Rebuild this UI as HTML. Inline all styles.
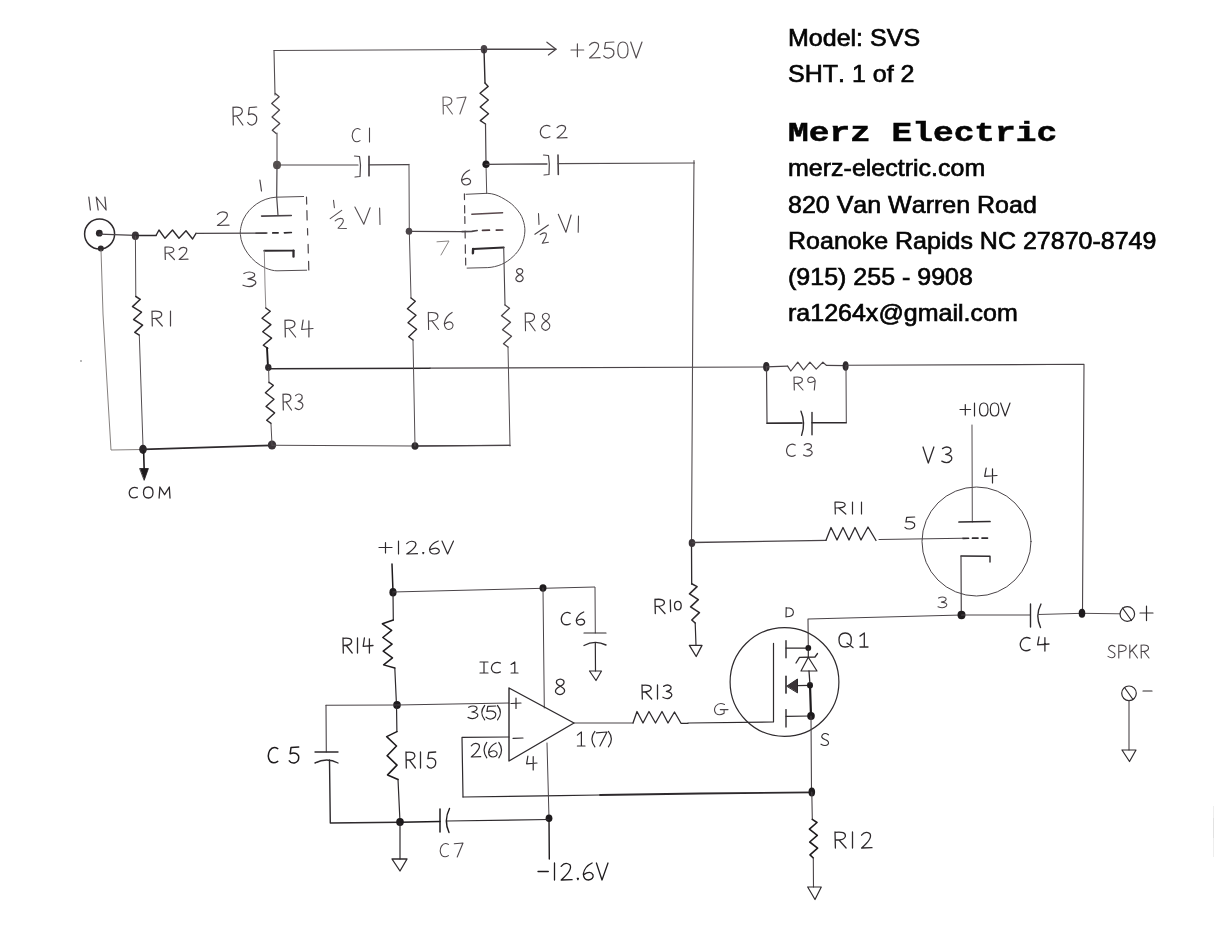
<!DOCTYPE html>
<html><head><meta charset="utf-8"><title>SVS schematic</title>
<style>
html,body{margin:0;padding:0;background:#fff;}
body{width:1214px;height:942px;position:relative;overflow:hidden;font-family:"Liberation Sans",sans-serif;}
svg{position:absolute;left:0;top:0;}
.t{position:absolute;left:787.7px;height:40px;line-height:40px;font-size:23.6px;color:#050505;white-space:nowrap;font-kerning:none;transform-origin:0 75%;transform:scaleX(1.06);
   -webkit-text-stroke:0.65px #050505;will-change:transform;}
.m{font-family:"Liberation Mono",monospace;font-weight:bold;font-size:27.9px;transform:scaleX(1.237);-webkit-text-stroke:0.5px #050505;}
</style></head>
<body>
<svg width="1214" height="942" viewBox="0 0 1214 942" fill="none" stroke-linecap="round">
<path d="M274,50.5 L484,49.5" stroke="#544e51" stroke-width="1.1"/>
<path d="M484,49.3 L556,49.3" stroke="#4a4448" stroke-width="1.4"/>
<path d="M546.9,42.2 L556,49.2 L548.4,55" stroke="#4a4448" stroke-width="1.2" stroke-linejoin="round"/>
<ellipse cx="484" cy="49.3" rx="3.3" ry="4.2" fill="#4a4448" stroke="none"/>
<path d="M 571,50 L 583.7,50 M 577.4,43.9 L 577.4,56.7 M 589.5,45.2 Q 593.2,40.4 597.9,43.6 Q 601.1,48.1 589.5,58 L 600.1,57.7 M 613.9,42 L 605.5,42.5 L 604.6,48.7 Q 610.9,46.8 613.7,50.8 Q 614.9,56.4 609.1,58 Q 605.5,58.3 603.7,55.8 M 622.9,42 Q 617.8,42 617.8,50 Q 617.8,58 622.9,58 Q 628,58 628,50 Q 628,42 622.9,42 M 630.7,42 L 636.2,58 L 642,42" stroke="#544e51" stroke-width="1.2" stroke-linejoin="round" stroke-linecap="round"/>
<path d="M274,50.5 L275,95" stroke="#544e51" stroke-width="1.1"/>
<path d="M275.3,93.5 L279.2,96.7 L271.7,103.6 L279.5,110.1 L272,116.9 L279.8,123.4 L272.3,130.3 L276.2,133.5" stroke="#4a4448" stroke-width="1.3" stroke-linejoin="round"/>
<path d="M277,133 L277,165" stroke="#544e51" stroke-width="1.1"/>
<path d="M 233.3,125 L 233,107 M 233,107.4 Q 242.9,105.9 242.3,111.9 Q 241.3,116.4 233.3,116 M 236.5,116 L 242.9,125 M 256.7,107 L 249.3,107.5 L 248.5,114.6 Q 254.1,112.4 256.5,116.9 Q 257.6,123.2 252.5,125 Q 249.3,125.4 247.7,122.5" stroke="#484246" stroke-width="1.2" stroke-linejoin="round" stroke-linecap="round"/>
<ellipse cx="277" cy="165" rx="4" ry="4.2" fill="#55504f" stroke="none"/>
<path d="M277,165 L276.7,197 L278,215.5" stroke="#4a4448" stroke-width="1.2"/>
<path d="M281,165 L358,165" stroke="#4a4448" stroke-width="1.2"/>
<path d="M354.5,156 L359.5,156.5 L360.5,165 L360,176.5 L355,177" stroke="#4a4448" stroke-width="1.2" stroke-linejoin="round"/>
<path d="M369,156.4 L369,175.7" stroke="#4a4448" stroke-width="1.7"/>
<path d="M369,164.9 L408.8,164.6" stroke="#4a4448" stroke-width="1.4"/>
<path d="M 360,129.4 Q 356.2,126.9 353.4,131.1 Q 350.9,136.4 353.7,140.3 Q 356.4,143.1 360,140.6 M 369.5,128 L 369.5,142" stroke="#484246" stroke-width="1.1" stroke-linejoin="round" stroke-linecap="round"/>
<path d="M 259.9,180 L 261.5,191" stroke="#4a4448" stroke-width="1.2" stroke-linejoin="round" stroke-linecap="round"/>
<path d="M303.6,196.5 L276,197.2 C262,198 249.4,207 243.5,219 C240.5,226 240,232 240.4,234.5 C241,247 251.5,262 265.5,268 C270,270 274,270.8 277,270.8 L306.7,270.2" stroke="#544e51" stroke-width="1"/>
<path d="M306.5,197.2 L306.7,204.1" stroke="#4a4448" stroke-width="1.2"/>
<path d="M306.9,210.5 L307.1,220" stroke="#4a4448" stroke-width="1.2"/>
<path d="M307.5,228.5 L307.7,234.9" stroke="#4a4448" stroke-width="1.2"/>
<path d="M308.1,244.4 L308.3,253" stroke="#4a4448" stroke-width="1.2"/>
<path d="M308.6,261.4 L308.8,270" stroke="#4a4448" stroke-width="1.2"/>
<path d="M261.6,216.1 L291.3,215.5" stroke="#4a4448" stroke-width="1.6"/>
<path d="M256,233.2 L265.9,233.2" stroke="#4a4448" stroke-width="1.6"/>
<path d="M272.8,232.9 L278.1,232.8" stroke="#2e2a2d" stroke-width="1.7"/>
<path d="M284.4,232.8 L291.3,232.5" stroke="#2e2a2d" stroke-width="1.7"/>
<path d="M293.5,256.7 L293.5,250.6" stroke="#2e2a2d" stroke-width="2.3"/>
<path d="M293.5,250.6 L264.3,250.8" stroke="#2e2a2d" stroke-width="1.9"/>
<path d="M264.3,250.8 L265,285 L265.8,308" stroke="#807a7c" stroke-width="0.9"/>
<path d="M 217.4,214.3 Q 221.4,210.1 226.6,212.9 Q 230.2,216.8 217.4,225.5 L 229,225.2" stroke="#4a4448" stroke-width="1.2" stroke-linejoin="round" stroke-linecap="round"/>
<path d="M 243.9,273.5 Q 249.7,270.5 254.2,273.5 Q 256.4,277.4 247.9,278.9 Q 257.8,280.1 255.3,284 Q 251.1,288.5 243,285.2" stroke="#4a4448" stroke-width="1.2" stroke-linejoin="round" stroke-linecap="round"/>
<path d="M333.5,200.2 L334.4,207.7 M330.2,218.6 L341.7,210.4 M335.2,220.9 Q339,217.3 342.6,218.8 Q345.5,221.2 338.1,228.2 L346.4,228.5 M354.9,207.1 L363.8,224.2 L370.1,207.7 M379.6,208.1 L380,224.5" stroke="#544e51" stroke-width="1.1" stroke-linejoin="round"/>
<circle cx="99.6" cy="234" r="15" stroke="#2e2a2d" stroke-width="1.5"/>
<ellipse cx="99.3" cy="233.2" rx="3.4" ry="3.4" fill="#2a2629" stroke="none"/>
<ellipse cx="100.8" cy="248.6" rx="3" ry="3" fill="#2e2a2d" stroke="none"/>
<path d="M 88.8,197 L 90.4,210 M 98.2,210 L 96.2,197 L 106.1,210 L 104.9,197" stroke="#4a4448" stroke-width="1.2" stroke-linejoin="round" stroke-linecap="round"/>
<path d="M99.3,234.2 L135.4,235.3" stroke="#4a4448" stroke-width="1.3"/>
<ellipse cx="135.4" cy="235.7" rx="3.6" ry="4.3" fill="#3a3438" stroke="none"/>
<path d="M135.4,235.5 L156,235.5" stroke="#2e2a2d" stroke-width="1.5"/>
<path d="M156,235.5 L159,230 L165,238.3 L172.5,230 L179,238.3 L186,230.8 L192.6,239 L196,233.3" stroke="#2e2a2d" stroke-width="1.4" stroke-linejoin="round"/>
<path d="M196,233.3 L267,233" stroke="#4a4448" stroke-width="1.3"/>
<path d="M 165.3,259.5 L 165,247 M 165,247.2 Q 174.4,246.2 173.8,250.4 Q 172.9,253.5 165.3,253.2 M 168.3,253.2 L 174.4,259.5 M 179.2,249.5 Q 182.2,245.8 186.2,248.2 Q 188.9,251.8 179.2,259.5 L 188,259.2" stroke="#4a4448" stroke-width="1.2" stroke-linejoin="round" stroke-linecap="round"/>
<path d="M101,250 L103,314 L108,400 L111,450 L143,449.5" stroke="#77726f" stroke-width="0.9" stroke-linejoin="round"/>
<path d="M135.4,236 L135.8,296.5" stroke="#544e51" stroke-width="1"/>
<path d="M135.8,296.5 L140.3,299.3 L132.5,306.6 L141.5,312.2 L133.6,319.5 L142.6,325.1 L134.8,332.4 L139.3,335.2" stroke="#2e2a2d" stroke-width="1.5" stroke-linejoin="round"/>
<path d="M139.3,335.2 L143,446" stroke="#544e51" stroke-width="1"/>
<path d="M 152.3,326 L 152,311 M 152,311.3 Q 162.3,310.1 161.7,315.1 Q 160.7,318.8 152.3,318.5 M 155.7,318.5 L 162.3,326 M 170.5,311 L 170.5,326" stroke="#484246" stroke-width="1.2" stroke-linejoin="round" stroke-linecap="round"/>
<ellipse cx="143" cy="449.3" rx="3.8" ry="4.6" fill="#2a2629" stroke="none"/>
<path d="M143.6,450 L144.3,474" stroke="#1e1b1d" stroke-width="1.6"/>
<path d="M140,468.5 L148.4,468.5 L144.3,480 Z" fill="#1e1b1d" stroke="#1e1b1d" stroke-width="0.8"/>
<path d="M 137.4,488.1 Q 133.3,486.1 130.4,489.4 Q 127.8,493.6 130.7,496.7 Q 133.6,498.9 137.4,496.9 M 148.3,487 Q 143.5,487 143.5,492.5 Q 143.5,498 148.3,498 Q 153,498 153,492.5 Q 153,487 148.3,487 M 159.1,498 L 159.9,487 L 164.6,494.7 L 169.3,487 L 170,498" stroke="#2e2a2d" stroke-width="1.3" stroke-linejoin="round" stroke-linecap="round"/>
<path d="M143,449.3 L272,445.3" stroke="#2e2a2d" stroke-width="1.7"/>
<ellipse cx="272" cy="445" rx="4.2" ry="4.5" fill="#3a3438" stroke="none"/>
<path d="M272,445.3 L415,446 L510,445.3" stroke="#544e51" stroke-width="1.1"/>
<path d="M415,446 L510,445.3" stroke="#4a4448" stroke-width="1.3"/>
<ellipse cx="415" cy="446" rx="3.5" ry="3.8" fill="#2e2a2d" stroke="none"/>
<path d="M265.8,308 L270.3,311.2 L262,318.3 L270.9,324.6 L262.7,331.8 L271.6,338.1 L263.3,345.2 L267.8,348.4" stroke="#2e2a2d" stroke-width="1.4" stroke-linejoin="round"/>
<path d="M267,348 L268,367" stroke="#1e1b1d" stroke-width="1.9"/>
<ellipse cx="268.3" cy="367.5" rx="3.2" ry="3.4" fill="#2e2a2d" stroke="none"/>
<path d="M268.6,368 L269,383" stroke="#544e51" stroke-width="1"/>
<path d="M269,382.2 L273.3,385.4 L265.4,392.7 L274,399.2 L266,406.4 L274.6,412.9 L266.7,420.2 L271,423.4" stroke="#2e2a2d" stroke-width="1.4" stroke-linejoin="round"/>
<path d="M271,424 L272,445" stroke="#544e51" stroke-width="1"/>
<path d="M 285.3,337 L 285,320 M 285,320.3 Q 295.6,319 294.9,324.6 Q 293.9,328.8 285.3,328.5 M 288.8,328.5 L 295.6,337 M 303.1,320 L 301.7,329.5 L 313,328.5 M 308.9,320.9 L 308.9,337" stroke="#484246" stroke-width="1.2" stroke-linejoin="round" stroke-linecap="round"/>
<path d="M 283.3,410 L 283,394 M 283,394.3 Q 291.5,393 290.9,398.3 Q 290.1,402.3 283.3,402 M 286,402 L 291.5,410 M 295.6,395.6 Q 299.2,392.4 301.9,395.6 Q 303.3,399.8 298.1,401.4 Q 304.1,402.6 302.6,406.8 Q 300,411.6 295.1,408.1" stroke="#4a4448" stroke-width="1.2" stroke-linejoin="round" stroke-linecap="round"/>
<path d="M268.5,368.7 L430,368.2" stroke="#2e2a2d" stroke-width="1.6"/>
<path d="M430,368.2 L766,367" stroke="#4a4448" stroke-width="1.2"/>
<ellipse cx="766.3" cy="366.8" rx="3.2" ry="4.8" fill="#2e2a2d" stroke="none"/>
<path d="M409,164.3 L409.3,231 L411,298" stroke="#544e51" stroke-width="1"/>
<ellipse cx="409" cy="231.3" rx="3.3" ry="3.5" fill="#4a4448" stroke="none"/>
<path d="M411,298 L415.3,301.3 L407.4,308.7 L416,315.3 L408,322.7 L416.6,329.3 L408.7,336.7 L413,340" stroke="#2e2a2d" stroke-width="1.4" stroke-linejoin="round"/>
<path d="M413,340 L415,446" stroke="#544e51" stroke-width="1"/>
<path d="M 428.6,329.5 L 428.3,312.4 M 428.3,312.7 Q 438.5,311.4 437.9,317 Q 436.9,321.3 428.6,320.9 M 431.9,320.9 L 438.5,329.5 M 452.1,312.4 Q 445.5,315.8 444.3,323.5 Q 444.6,329.5 448.8,329.5 Q 453.7,328.6 452.9,324.4 Q 450.8,319.6 444.6,324" stroke="#484246" stroke-width="1.1" stroke-linejoin="round" stroke-linecap="round"/>
<path d="M409,231.3 L462,231.6" stroke="#4a4448" stroke-width="1.3"/>
<path d="M466,194.3 L487.2,193.3 C493,193.5 497.5,195.3 501.6,197.5 C507,200.5 511,203 514.3,206.5 C519,211.5 521.6,215.5 522.8,219.3 C524.3,223.5 525,227.5 524.9,231 C524.7,236 523.5,241 521.7,244.8 C519.5,249.5 516.5,253.5 513.2,256.4 C509.5,260 505.5,262.6 501.6,264.4 C497,266.3 492,267.4 487.8,267.6 L467.1,268.1" stroke="#544e51" stroke-width="1"/>
<path d="M464.4,193.8 L464.5,199.6" stroke="#4a4448" stroke-width="1.2"/>
<path d="M464.6,205.5 L464.7,212.9" stroke="#4a4448" stroke-width="1.2"/>
<path d="M464.8,216.6 L464.9,223.5" stroke="#4a4448" stroke-width="1.2"/>
<path d="M465.1,231 L465.2,237.9" stroke="#4a4448" stroke-width="1.2"/>
<path d="M465.3,244.8 L465.4,253.2" stroke="#4a4448" stroke-width="1.2"/>
<path d="M465.6,258 L465.7,264.9" stroke="#4a4448" stroke-width="1.2"/>
<path d="M471.8,214.2 L502.6,212.7" stroke="#5a4a4e" stroke-width="1.4"/>
<path d="M462,231.6 L471.8,231.4 L477.2,230.5" stroke="#4a4448" stroke-width="1.6"/>
<path d="M482.5,230.3 L489.4,230.2" stroke="#4a3a3e" stroke-width="1.7"/>
<path d="M496.3,230.1 L502.6,230" stroke="#4a3a3e" stroke-width="1.7"/>
<path d="M472.9,253.2 L473.1,249" stroke="#2e2a2d" stroke-width="2.4"/>
<path d="M473.1,249 L503.7,247.4" stroke="#2e2a2d" stroke-width="2"/>
<path d="M503.7,247.4 L505,305" stroke="#4a4448" stroke-width="1.1"/>
<path d="M 469.6,170 Q 462.7,173 461.5,179.8 Q 461.9,185 466.2,185 Q 471.3,184.2 470.5,180.5 Q 468.2,176.3 461.9,180.2" stroke="#484246" stroke-width="1.2" stroke-linejoin="round" stroke-linecap="round"/>
<path d="M 437,241.8 L 449,241 L 441,255" stroke="#8a8684" stroke-width="1" stroke-linejoin="round" stroke-linecap="round"/>
<path d="M 519.8,274.6 Q 515.5,272.6 516.9,269.9 Q 519.8,267.4 522.4,269.9 Q 523.8,272.6 519.8,274.6 Q 514.6,277.3 516.2,280 Q 519.5,283.4 522.6,280 Q 524.6,277.3 519.8,274.6" stroke="#4a4448" stroke-width="1.2" stroke-linejoin="round" stroke-linecap="round"/>
<path d="M538.5,213.5 L539,224.4 M534.9,234.3 L548.4,225 M540.2,234.6 Q543.5,232 546.1,233.3 Q547.5,235.5 542.3,243.2 L548.4,242.2 M558.3,214.2 L565.9,232.3 L571.1,215 M578.5,216.1 L578.2,232.3" stroke="#4a4448" stroke-width="1.1" stroke-linejoin="round"/>
<path d="M484,49.3 L485,83" stroke="#2e2a2d" stroke-width="1.4"/>
<path d="M485,83 L488.2,86.4 L480,93.3 L488.3,100 L480.2,107 L488.5,113.7 L480.3,120.6 L485.5,124" stroke="#2e2a2d" stroke-width="1.4" stroke-linejoin="round"/>
<path d="M485.5,124 L486,164" stroke="#4a4448" stroke-width="1.2"/>
<path d="M486,164 L486.7,193.5" stroke="#544e51" stroke-width="1"/>
<path d="M 443.3,114 L 443,97 M 443,97.3 Q 452.4,96 451.8,101.6 Q 450.9,105.8 443.3,105.5 M 446.3,105.5 L 452.4,114 M 456.9,98 L 466,97 L 459.9,114" stroke="#625c5e" stroke-width="1.1" stroke-linejoin="round" stroke-linecap="round"/>
<ellipse cx="486" cy="164.3" rx="3.6" ry="3.8" fill="#1e1b1d" stroke="none"/>
<path d="M486,164.3 L547,164" stroke="#4a4448" stroke-width="1.3"/>
<path d="M543.5,155 L548.5,155.5 L549.3,164 L549,174.5 L544,175" stroke="#4a4448" stroke-width="1.2" stroke-linejoin="round"/>
<path d="M558,155 L558.3,174.5" stroke="#4a4448" stroke-width="1.6"/>
<path d="M558,163.6 L694.5,163" stroke="#544e51" stroke-width="1.1"/>
<path d="M 549.9,126.3 Q 545.1,124 541.7,127.9 Q 538.6,132.8 542.1,136.4 Q 545.5,139 549.9,136.7 M 557.1,127.6 Q 560.5,123.7 564.9,126.3 Q 568,129.9 557.1,138 L 567,137.7" stroke="#484246" stroke-width="1.2" stroke-linejoin="round" stroke-linecap="round"/>
<path d="M694,160.5 L693,280 L691.5,543" stroke="#544e51" stroke-width="1.1"/>
<path d="M691.5,543 L691.7,584" stroke="#2e2a2d" stroke-width="1.3"/>
<ellipse cx="692" cy="543" rx="3.3" ry="4" fill="#3a3438" stroke="none"/>
<path d="M505,305 L509.5,308.2 L501.5,315.8 L510.5,322.2 L502.5,329.8 L511.5,336.2 L503.5,343.8 L508,347" stroke="#4a4448" stroke-width="1.3" stroke-linejoin="round"/>
<path d="M508,347 L510,446" stroke="#544e51" stroke-width="1"/>
<path d="M 525.5,330.8 L 525.2,313 M 525.2,313.4 Q 535.1,311.9 534.5,317.8 Q 533.5,322.3 525.5,321.9 M 528.7,321.9 L 535.1,330.8 M 546,321 Q 541.2,318.3 542.8,314.8 Q 546,311.6 548.9,314.8 Q 550.5,318.3 546,321 Q 540.3,324.6 542,328.1 Q 545.7,332.6 549.2,328.1 Q 551.5,324.6 546,321" stroke="#484246" stroke-width="1.1" stroke-linejoin="round" stroke-linecap="round"/>
<path d="M766,366.8 L787.6,366.2" stroke="#4a4448" stroke-width="1.2"/>
<path d="M787.6,366.2 L790.8,371 L797.8,362.2 L803.5,369.8 L809.9,362.2 L816.2,369.2 L822.9,362.2 L826.4,365.4" stroke="#4a4448" stroke-width="1.2" stroke-linejoin="round"/>
<path d="M826.4,365.4 L846,365.6" stroke="#4a4448" stroke-width="1.1"/>
<ellipse cx="845.6" cy="366" rx="3" ry="4.8" fill="#2e2a2d" stroke="none"/>
<path d="M 794.3,390 L 794,377 M 794,377.3 Q 803,376.2 802.4,380.5 Q 801.6,383.8 794.3,383.5 M 797.2,383.5 L 803,390 M 815.2,380.6 Q 813.9,377 811,377 Q 807.4,377.6 807.8,380.9 Q 809.5,384.3 815.2,380.6 L 814.3,390" stroke="#4a4448" stroke-width="1.1" stroke-linejoin="round" stroke-linecap="round"/>
<path d="M766.5,367 L767,423.3 L802,423" stroke="#4a4448" stroke-width="1.2" stroke-linejoin="round"/>
<path d="M767,423.3 L802,423" stroke="#2e2a2d" stroke-width="1.5"/>
<path d="M801,411.2 Q805.8,423 801.6,435.4" stroke="#2e2a2d" stroke-width="1.4"/>
<path d="M812,412.5 L812,434.8" stroke="#2e2a2d" stroke-width="1.4"/>
<path d="M812,422.7 L846.3,422.7" stroke="#2e2a2d" stroke-width="1.5"/>
<path d="M846.3,422.7 L846,366" stroke="#4a4448" stroke-width="1"/>
<path d="M 795.2,445 Q 790.9,442.7 787.8,446.5 Q 785.1,451.4 788.1,455 Q 791.2,457.5 795.2,455.2 M 804.2,445 Q 808.1,442.4 811.2,445 Q 812.7,448.3 806.9,449.6 Q 813.6,450.6 811.9,453.9 Q 809,457.8 803.5,455" stroke="#4a4448" stroke-width="1.2" stroke-linejoin="round" stroke-linecap="round"/>
<path d="M846,365.3 L1084,364.3 L1082.5,613" stroke="#4a4448" stroke-width="1.1" stroke-linejoin="round"/>
<circle cx="976.5" cy="541.5" r="54.5" stroke="#4a4448" stroke-width="1.0"/>
<path d="M 960,409.5 L 970.6,409.5 M 965.3,404.6 L 965.3,415 M 974.5,403 L 974.5,416 M 983.8,403 Q 979.5,403 979.5,409.5 Q 979.5,416 983.8,416 Q 988,416 988,409.5 Q 988,403 983.8,403 M 994.5,403 Q 990.3,403 990.3,409.5 Q 990.3,416 994.5,416 Q 998.8,416 998.8,409.5 Q 998.8,403 994.5,403 M 1000.6,403 L 1005.2,416 L 1010,403" stroke="#2e2a2d" stroke-width="1.2" stroke-linejoin="round" stroke-linecap="round"/>
<path d="M972,425 L972.3,522" stroke="#544e51" stroke-width="1"/>
<path d="M959,522 L990,521.5" stroke="#2e2a2d" stroke-width="1.7"/>
<path d="M963,538.3 L990,538" stroke="#2e2a2d" stroke-width="1.7" stroke-dasharray="5.5 4"/>
<path d="M990,562 L990,556.3 L961,556" stroke="#2e2a2d" stroke-width="1.4" stroke-linejoin="round"/>
<path d="M961,556 L961.3,615" stroke="#4a4448" stroke-width="1.2"/>
<path d="M 923,447 L 928.3,463 L 933.9,447 M 942.5,448.6 Q 947.1,445.4 950.6,448.6 Q 952.4,452.8 945.7,454.4 Q 953.4,455.6 951.5,459.8 Q 948.1,464.6 941.8,461.1" stroke="#2e2a2d" stroke-width="1.3" stroke-linejoin="round" stroke-linecap="round"/>
<path d="M 986.2,468 L 984.7,476.4 L 997,475.5 M 992.5,468.8 L 992.5,483" stroke="#2e2a2d" stroke-width="1.2" stroke-linejoin="round" stroke-linecap="round"/>
<path d="M 914.7,517 L 906.7,517.4 L 905.9,522 Q 911.9,520.6 914.5,523.6 Q 915.7,527.8 910.2,529 Q 906.7,529.2 905,527.3" stroke="#2e2a2d" stroke-width="1.2" stroke-linejoin="round" stroke-linecap="round"/>
<path d="M 938.6,598.1 Q 942.7,595.9 945.8,598.1 Q 947.3,601 941.4,602.1 Q 948.2,602.9 946.5,605.8 Q 943.6,609.1 938,606.7" stroke="#4a4448" stroke-width="1.1" stroke-linejoin="round" stroke-linecap="round"/>
<path d="M692,542.5 L826,540.3" stroke="#4a4448" stroke-width="1.3"/>
<path d="M826,540.3 L831,527.5 L837,540 L843,527.5 L849,540 L855,527.5 L861,540 L868,527 L876,540.5" stroke="#2e2a2d" stroke-width="1.3" stroke-linejoin="round"/>
<path d="M879,539.5 L963,538.3" stroke="#4a4448" stroke-width="1.1"/>
<path d="M 835.3,514 L 835,502 M 835,502.2 Q 845.8,501.3 845.1,505.2 Q 844,508.2 835.3,508 M 838.8,508 L 845.8,514 M 852.5,502 L 852.5,514 M 861.5,502 L 861.5,514" stroke="#2e2a2d" stroke-width="1.2" stroke-linejoin="round" stroke-linecap="round"/>
<path d="M691.7,583.8 L697.1,586.6 L689.5,593.9 L698.3,599.7 L690.6,606.9 L699.4,612.7 L691.8,620 L695.2,623" stroke="#2e2a2d" stroke-width="1.6" stroke-linejoin="round"/>
<path d="M695.2,623 L696,645.4" stroke="#2e2a2d" stroke-width="1.2"/>
<path d="M689.4,645.4 L702,645.4 L696.2,656.5 L689.4,645.4" stroke="#2e2a2d" stroke-width="1.3" stroke-linejoin="round"/>
<path d="M 655.3,613.5 L 655,599.2 M 655,599.5 Q 665,598.3 664.4,603.1 Q 663.4,606.6 655.3,606.4 M 658.5,606.4 L 665,613.5" stroke="#2e2a2d" stroke-width="1.3" stroke-linejoin="round" stroke-linecap="round"/>
<path d="M670.3,600 L670.6,611.5" stroke="#2e2a2d" stroke-width="1.3"/>
<path d="M 677.9,601.3 Q 674.5,601.3 674.5,605.5 Q 674.5,609.8 677.9,609.8 Q 681.2,609.8 681.2,605.5 Q 681.2,601.3 677.9,601.3" stroke="#2e2a2d" stroke-width="1.3" stroke-linejoin="round" stroke-linecap="round"/>
<path d="M808.3,648 L808,619 L962,615" stroke="#4a4448" stroke-width="1.1" stroke-linejoin="round"/>
<ellipse cx="961.5" cy="615" rx="4" ry="4.2" fill="#1e1b1d" stroke="none"/>
<path d="M961.5,615 L1030.5,615" stroke="#4a4448" stroke-width="1.2"/>
<path d="M1030.5,604 L1030.5,627" stroke="#2e2a2d" stroke-width="1.4"/>
<path d="M1041,604 Q1035,615.5 1040.5,627.5" stroke="#2e2a2d" stroke-width="1.4"/>
<path d="M1038.5,614.5 L1082,613.3 L1120,613.8" stroke="#544e51" stroke-width="1"/>
<ellipse cx="1082" cy="613.3" rx="3.3" ry="4.5" fill="#1e1b1d" stroke="none"/>
<path d="M 1030,638.4 Q 1025.2,635.9 1021.7,640.1 Q 1018.6,645.4 1022.1,649.3 Q 1025.5,652.1 1030,649.6 M 1039,637 L 1037.6,644.8 L 1049,644 M 1044.9,637.7 L 1044.9,651" stroke="#2e2a2d" stroke-width="1.3" stroke-linejoin="round" stroke-linecap="round"/>
<circle cx="1127.3" cy="614" r="7.3" stroke="#2e2a2d" stroke-width="1.2"/>
<path d="M1122.5,608 L1131.5,620.5" stroke="#2e2a2d" stroke-width="1.2"/>
<path d="M 1140,613 L 1153,613 M 1146.5,606.2 L 1146.5,620.6" stroke="#2e2a2d" stroke-width="1.2" stroke-linejoin="round" stroke-linecap="round"/>
<path d="M 1114.9,646.6 Q 1111.8,644 1109.3,646.6 Q 1107.2,649.5 1111.6,651.5 Q 1116.5,653.5 1114.4,656.7 Q 1111.8,659 1108,656.4 M 1118.8,658 L 1118.8,645 M 1118.8,645.3 Q 1126.5,644.5 1126.2,648.5 Q 1125.9,651.8 1118.8,651.8 M 1129.8,645 L 1129.8,658 M 1136.8,645 L 1129.8,652.5 M 1132.3,650.5 L 1137.5,658 M 1141.3,658 L 1141.1,645 M 1141.1,645.3 Q 1149,644.2 1148.5,648.5 Q 1147.7,651.8 1141.3,651.5 M 1143.9,651.5 L 1149,658" stroke="#4a4448" stroke-width="1.1" stroke-linejoin="round" stroke-linecap="round"/>
<circle cx="1129" cy="693.3" r="7.3" stroke="#2e2a2d" stroke-width="1.2"/>
<path d="M1124.5,687.5 L1133,699.5" stroke="#2e2a2d" stroke-width="1.2"/>
<path d="M1143,691 L1152,691" stroke="#2e2a2d" stroke-width="1.2"/>
<path d="M1129,700.5 L1129,750" stroke="#4a4448" stroke-width="1.1"/>
<path d="M1122,750 L1136,750 L1129.5,761.5 L1122,750" stroke="#2e2a2d" stroke-width="1.2" stroke-linejoin="round"/>
<circle cx="784.5" cy="682" r="54.4" stroke="#2e2a2d" stroke-width="1.2"/>
<path d="M 786.2,607.6 L 786,617 M 786,607.8 Q 793.4,607.6 793.4,612.3 Q 793.4,617 786,616.8" stroke="#2e2a2d" stroke-width="1.1" stroke-linejoin="round" stroke-linecap="round"/>
<path d="M 845.2,633 Q 839,633 839,640 Q 839,647 845.2,647 Q 851.3,647 851.3,640 Q 851.3,633 845.2,633 M 846.9,643.1 L 853,647.6 M 860,636.1 L 864.3,633 L 864.3,647 M 860,647 L 868,647" stroke="#2e2a2d" stroke-width="1.3" stroke-linejoin="round" stroke-linecap="round"/>
<path d="M 724.5,704.4 Q 719.2,702 715.8,706 Q 713,710.2 716.1,713.6 Q 719.6,716 724.1,713.2 L 724.1,709.6 M 720.3,709.6 L 728,709.6" stroke="#4a4448" stroke-width="1.1" stroke-linejoin="round" stroke-linecap="round"/>
<path d="M 828.4,734.8 Q 825.1,732.3 822.4,734.8 Q 820.2,737.6 824.9,739.5 Q 830.1,741.4 827.9,744.5 Q 825.1,746.7 821,744.2" stroke="#2e2a2d" stroke-width="1.1" stroke-linejoin="round" stroke-linecap="round"/>
<path d="M773.5,643.3 L773.5,722 L688,723" stroke="#2e2a2d" stroke-width="1.2" stroke-linejoin="round"/>
<path d="M786,640.8 L786,657.7" stroke="#2e2a2d" stroke-width="1.4"/>
<path d="M786,676.4 L786,693.1" stroke="#2e2a2d" stroke-width="1.6"/>
<path d="M786,709.6 L786,727" stroke="#2e2a2d" stroke-width="1.4"/>
<path d="M786,648.1 L808,648.1" stroke="#2e2a2d" stroke-width="1.2"/>
<path d="M786,716.3 L811,716" stroke="#2e2a2d" stroke-width="1.2"/>
<path d="M797,685.7 L810,685.3" stroke="#2e2a2d" stroke-width="1.2"/>
<path d="M787,686 L797.5,679 L797.5,692.5 Z" fill="#3a3438" stroke="#2e2a2d" stroke-width="1"/>
<ellipse cx="808.3" cy="648" rx="2.9" ry="3" fill="#1e1b1d" stroke="none"/>
<ellipse cx="810" cy="685.3" rx="3" ry="3.2" fill="#1e1b1d" stroke="none"/>
<ellipse cx="811" cy="716" rx="3.8" ry="4" fill="#1e1b1d" stroke="none"/>
<path d="M808.3,648 L808.3,657" stroke="#2e2a2d" stroke-width="1.2"/>
<path d="M796,663 L799.5,657.3 L815,657 L817.5,653.5" stroke="#2e2a2d" stroke-width="1.3" stroke-linejoin="round"/>
<path d="M808.3,657.3 L801,671 L817,671 L808.3,657.3" stroke="#2e2a2d" stroke-width="1.2" stroke-linejoin="round"/>
<path d="M809,671 L810,685" stroke="#2e2a2d" stroke-width="1.3"/>
<path d="M810,685 L811,716" stroke="#1e1b1d" stroke-width="2.2"/>
<path d="M811,716 L811.5,792" stroke="#4a4448" stroke-width="1.1"/>
<path d="M574,723 L633,723" stroke="#4a4448" stroke-width="1.1"/>
<path d="M633,723 L637,711.5 L643,723 L649,711.5 L655.5,723 L662,711.5 L668,723 L674.5,712 L681,723.3 L688,723.3" stroke="#2e2a2d" stroke-width="1.3" stroke-linejoin="round"/>
<path d="M 642.3,699 L 642,685 M 642,685.3 Q 651.7,684.2 651.1,688.8 Q 650.1,692.3 642.3,692 M 645.4,692 L 651.7,699 M 657.5,685 L 657.5,699 M 663.6,686.4 Q 667.6,683.6 670.8,686.4 Q 672.3,690 666.4,691.4 Q 673.2,692.6 671.5,696.2 Q 668.6,700.4 662.9,697.3" stroke="#2e2a2d" stroke-width="1.3" stroke-linejoin="round" stroke-linecap="round"/>
<path d="M463,797 L560,795.6 L600,795" stroke="#2e2a2d" stroke-width="1.2"/>
<path d="M600,795 L700,793.5 L811.5,792.3" stroke="#2e2a2d" stroke-width="1.8" stroke-linejoin="round"/>
<ellipse cx="811.8" cy="792" rx="3.3" ry="4.5" fill="#1e1b1d" stroke="none"/>
<path d="M811.8,792 L812.3,819.4" stroke="#4a4448" stroke-width="1.1"/>
<path d="M812.3,819.4 L817,822.5 L809.4,829.1 L817.3,835.4 L809.7,842 L817.6,848.2 L810,854.9 L813.3,858" stroke="#1e1b1d" stroke-width="1.6" stroke-linejoin="round"/>
<path d="M813.3,858 L813.5,887" stroke="#4a4448" stroke-width="1.1"/>
<path d="M807.7,887 L821.3,887 L815,899.5 L807.7,887" stroke="#2e2a2d" stroke-width="1.2" stroke-linejoin="round"/>
<path d="M 835.4,848 L 835,832 M 835,832.3 Q 846.1,831 845.4,836.3 Q 844.3,840.3 835.4,840 M 839,840 L 846.1,848 M 852.5,832 L 852.5,848 M 861.6,835.2 Q 865.2,830.4 869.8,833.6 Q 873.1,838.1 861.6,848 L 872,847.7" stroke="#2e2a2d" stroke-width="1.3" stroke-linejoin="round" stroke-linecap="round"/>
<path d="M 379,547.5 L 392,547.5 M 385.5,542.6 L 385.5,553 M 398.5,541 L 398.5,554 M 406.7,543.6 Q 410.4,539.7 415.2,542.3 Q 418.6,545.9 406.7,554 L 417.5,553.7 M 422.7,552.7 L 423.8,552.7 L 423.2,553.7 Z M 438.3,541 Q 430.8,543.6 429.5,549.5 Q 429.9,554 434.5,554 Q 440.1,553.4 439.2,550.1 Q 436.8,546.5 429.9,549.8 M 442,541 L 447.6,554 L 453.5,541" stroke="#2e2a2d" stroke-width="1.2" stroke-linejoin="round" stroke-linecap="round"/>
<path d="M392,564 L393,592" stroke="#1e1b1d" stroke-width="1.5"/>
<ellipse cx="393" cy="592.3" rx="3.6" ry="4.3" fill="#1e1b1d" stroke="none"/>
<path d="M393,592 L543,588.3 L595,587 L595.3,633" stroke="#4a4448" stroke-width="1" stroke-linejoin="round"/>
<ellipse cx="543" cy="588" rx="3.5" ry="3.7" fill="#1e1b1d" stroke="none"/>
<path d="M584,633 L606,633" stroke="#2e2a2d" stroke-width="1.2"/>
<path d="M584,645.5 Q595,639.5 606,645" stroke="#2e2a2d" stroke-width="1.4"/>
<path d="M595.3,642.5 L595.5,671" stroke="#2e2a2d" stroke-width="1.2"/>
<path d="M589.5,671 L601.5,671 L596,680.5 L589.5,671" stroke="#2e2a2d" stroke-width="1.2" stroke-linejoin="round"/>
<path d="M 570.2,613.3 Q 565.8,611 562.6,614.9 Q 559.7,619.8 562.9,623.4 Q 566.1,626 570.2,623.7 M 583.7,612 Q 577.4,614.6 576.3,620.5 Q 576.6,625 580.5,625 Q 585.3,624.4 584.5,621.1 Q 582.5,617.5 576.6,620.8" stroke="#2e2a2d" stroke-width="1.3" stroke-linejoin="round" stroke-linecap="round"/>
<path d="M543,588 L544.3,708" stroke="#4a4448" stroke-width="1"/>
<path d="M547,743 L549,818" stroke="#4a4448" stroke-width="1"/>
<ellipse cx="549" cy="818.3" rx="3.4" ry="3.8" fill="#1e1b1d" stroke="none"/>
<path d="M549,818 L549.3,859" stroke="#1e1b1d" stroke-width="1.4"/>
<path d="M 538,871.5 L 548.3,871.5 M 554.5,863 L 554.5,880 M 561.2,866.4 Q 565,861.3 569.8,864.7 Q 573.2,869.5 561.2,880 L 572.1,879.7 M 577.3,878.3 L 578.4,878.3 L 577.9,879.7 Z M 592.1,863 Q 584.6,866.4 583.3,874 Q 583.7,880 588.3,880 Q 594,879.1 593,874.9 Q 590.6,870.1 583.7,874.6 M 596.4,863 L 602,880 L 608,863" stroke="#1e1b1d" stroke-width="1.3" stroke-linejoin="round" stroke-linecap="round"/>
<path d="M393,592 L393.3,620" stroke="#2e2a2d" stroke-width="1.2"/>
<path d="M393.3,620 L382.4,623.8 L391.7,630.3 L382.8,637.5 L392.1,644.1 L383.2,651.2 L392.5,657.8 L383.6,664.9 L394.8,668" stroke="#1e1b1d" stroke-width="1.5" stroke-linejoin="round"/>
<path d="M394.8,668 L396.5,705" stroke="#2e2a2d" stroke-width="1.2"/>
<path d="M 343.3,653 L 343,638 M 343,638.3 Q 352.2,637.1 351.6,642 Q 350.7,645.8 343.3,645.5 M 346.3,645.5 L 352.2,653 M 357.5,638 L 357.5,653 M 364.4,638 L 363.2,646.4 L 373,645.5 M 369.4,638.8 L 369.4,653" stroke="#2e2a2d" stroke-width="1.3" stroke-linejoin="round" stroke-linecap="round"/>
<ellipse cx="397" cy="705" rx="3.8" ry="4" fill="#1e1b1d" stroke="none"/>
<path d="M326,705.3 L397,705 L509,703" stroke="#4a4448" stroke-width="1.1"/>
<path d="M326,705.3 L326.3,752" stroke="#4a4448" stroke-width="1.1"/>
<path d="M315,752 L338,752" stroke="#2e2a2d" stroke-width="1.4"/>
<path d="M315,763 Q327,757 338,763" stroke="#2e2a2d" stroke-width="1.4"/>
<path d="M329.5,760 L330.3,823 L400,822.3" stroke="#2e2a2d" stroke-width="1.4" stroke-linejoin="round"/>
<path d="M 277.7,748.6 Q 273,745.7 269.7,750.5 Q 266.7,756.6 270,761.1 Q 273.3,764.3 277.7,761.4 M 298.7,747 L 291,747.5 L 290.2,753.7 Q 296,751.8 298.5,755.8 Q 299.7,761.4 294.3,763 Q 291,763.3 289.3,760.8" stroke="#1e1b1d" stroke-width="1.5" stroke-linejoin="round" stroke-linecap="round"/>
<path d="M396.5,705 L396.9,731.6" stroke="#2e2a2d" stroke-width="1.2"/>
<path d="M396.9,731.6 L386.7,736.6 L396.5,746 L387.1,755.7 L397,765.1 L387.6,774.9 L398,779.4" stroke="#1e1b1d" stroke-width="1.6" stroke-linejoin="round"/>
<path d="M398,779.4 L400,822" stroke="#2e2a2d" stroke-width="1.2"/>
<path d="M 406.3,768 L 406,752 M 406,752.3 Q 415.4,751 414.8,756.3 Q 413.9,760.3 406.3,760 M 409.4,760 L 415.4,768 M 420.5,752 L 420.5,768 M 435.7,752 L 428.7,752.5 L 427.9,758.7 Q 433.3,756.8 435.5,760.8 Q 436.6,766.4 431.7,768 Q 428.7,768.3 427.2,765.8" stroke="#2e2a2d" stroke-width="1.3" stroke-linejoin="round" stroke-linecap="round"/>
<ellipse cx="400" cy="822" rx="3.8" ry="4" fill="#1e1b1d" stroke="none"/>
<path d="M400,822 L400,859" stroke="#2e2a2d" stroke-width="1.2"/>
<path d="M392,859 L407,859 L400,871 L392,859" stroke="#2e2a2d" stroke-width="1.3" stroke-linejoin="round"/>
<path d="M400,822.3 L440,821.5" stroke="#1e1b1d" stroke-width="1.5"/>
<path d="M440,809 L440,832" stroke="#1e1b1d" stroke-width="1.5"/>
<path d="M449.5,808.5 Q443.5,820.5 449,832.5" stroke="#1e1b1d" stroke-width="1.4"/>
<path d="M447,821 L549,819.5" stroke="#2e2a2d" stroke-width="1.2"/>
<path d="M 448.4,844.4 Q 444.4,841.9 441.5,846.1 Q 438.8,851.4 441.7,855.3 Q 444.7,858.1 448.4,855.6 M 454.3,843.8 L 463,843 L 457.2,857" stroke="#4a4448" stroke-width="1.1" stroke-linejoin="round" stroke-linecap="round"/>
<path d="M509,688 L509,761 L574,723 L509,688" stroke="#2e2a2d" stroke-width="1.4" stroke-linejoin="round"/>
<path d="M511,703.5 L521,703" stroke="#2e2a2d" stroke-width="1.2"/>
<path d="M516,698 L516,708.5" stroke="#2e2a2d" stroke-width="1.2"/>
<path d="M513,738.3 L523,738" stroke="#2e2a2d" stroke-width="1.2"/>
<path d="M 484,662 L 484,673 M 480,662 L 488,662 M 480,673 L 488,673 M 500.4,663.1 Q 496,661.1 492.8,664.4 Q 489.9,668.6 493.1,671.7 Q 496.3,673.9 500.4,671.9 M 511.1,664.4 L 514.8,662 L 514.8,673 M 511.1,673 L 518,673" stroke="#2e2a2d" stroke-width="1.2" stroke-linejoin="round" stroke-linecap="round"/>
<path d="M 560.4,686.2 Q 555,683.8 556.8,680.6 Q 560.4,677.7 563.6,680.6 Q 565.4,683.8 560.4,686.2 Q 553.9,689.4 555.9,692.6 Q 560,696.6 563.9,692.6 Q 566.4,689.4 560.4,686.2" stroke="#2e2a2d" stroke-width="1.3" stroke-linejoin="round" stroke-linecap="round"/>
<path d="M 527.9,756 L 526.6,763.8 L 537,763 M 533.2,756.7 L 533.2,770" stroke="#2e2a2d" stroke-width="1.2" stroke-linejoin="round" stroke-linecap="round"/>
<path d="M 468.7,707.3 Q 473.2,704.7 476.7,707.3 Q 478.4,710.7 471.8,712 Q 479.4,713 477.5,716.4 Q 474.2,720.3 468,717.4 M 484.7,705.5 Q 478.8,712.5 484.7,719.8 M 495.8,706 L 487.8,706.4 L 486.9,711.5 Q 493,709.9 495.6,713.1 Q 496.8,717.7 491.2,719 Q 487.8,719.3 486,717.2 M 497.5,705.5 Q 503.4,712.5 497.5,719.8" stroke="#2e2a2d" stroke-width="1.2" stroke-linejoin="round" stroke-linecap="round"/>
<path d="M 471.3,745.8 Q 474.6,741.6 478.8,744.4 Q 481.7,748.3 471.3,757 L 480.7,756.7 M 486.8,742.4 Q 481.3,750 486.8,757.8 M 496.2,743 Q 489.7,745.8 488.6,752.1 Q 488.9,757 493,757 Q 497.8,756.3 497,752.8 Q 494.9,748.9 488.9,752.5 M 498.8,742.4 Q 504.3,750 498.8,757.8" stroke="#2e2a2d" stroke-width="1.2" stroke-linejoin="round" stroke-linecap="round"/>
<path d="M 577.4,735.1 L 581.4,732 L 581.4,746 M 577.4,746 L 585,746 M 594.9,731.4 Q 588.9,739 594.9,746.8 M 596.3,732.8 L 607,732 L 599.9,746 M 608.4,731.4 Q 614.4,739 608.4,746.8" stroke="#2e2a2d" stroke-width="1.2" stroke-linejoin="round" stroke-linecap="round"/>
<path d="M509,737 L462,737.3 L463,797" stroke="#2e2a2d" stroke-width="1.2" stroke-linejoin="round"/>
<circle cx="81" cy="361" r="0.9" fill="#999" stroke="none"/>
<rect x="1213" y="806" width="1" height="51" fill="#eeeeee" stroke="none"/>
<rect x="1213" y="818" width="1" height="20" fill="#e2e2e2" stroke="none"/>
</svg>
<div class="t" style="top:18px">Model: SVS</div>
<div class="t" style="top:53.7px">SHT. 1 of 2</div>
<div class="t m" style="top:114px">Merz Electric</div>
<div class="t" style="top:148.3px">merz-electric.com</div>
<div class="t" style="top:184.6px">820 Van Warren Road</div>
<div class="t" style="top:220.6px">Roanoke Rapids NC 27870-8749</div>
<div class="t" style="top:256.6px">(915) 255 - 9908</div>
<div class="t" style="top:293px">ra1264x@gmail.com</div>
</body></html>
